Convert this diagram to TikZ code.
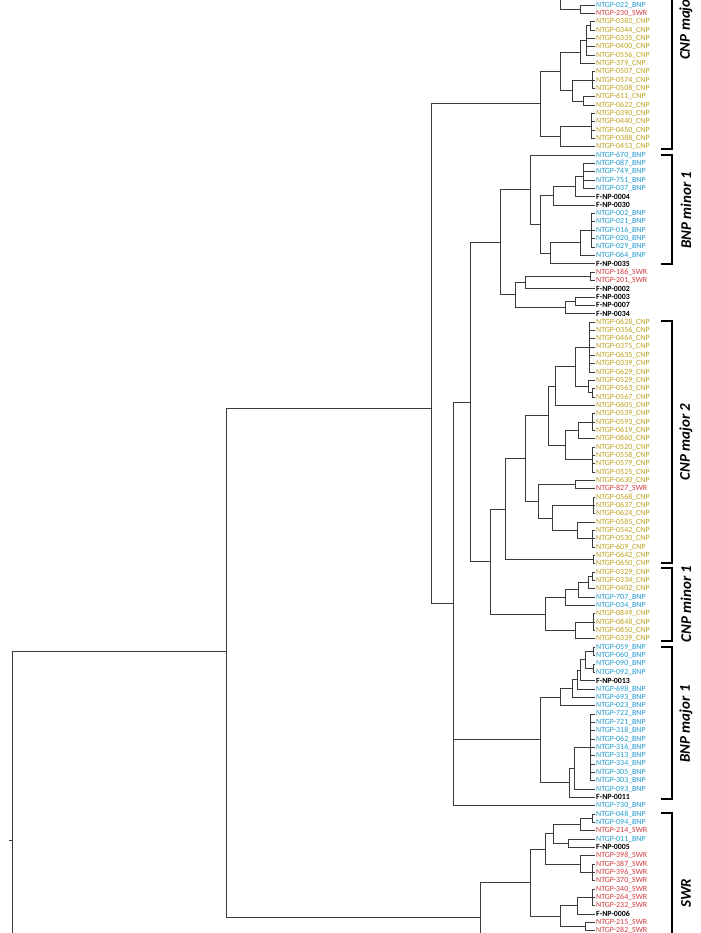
\documentclass[tikz,border=0pt]{standalone}
\usepackage{fontspec}
\setmainfont{Carlito}
\usetikzlibrary{calc}
\definecolor{bnp}{HTML}{1F9BD0}
\definecolor{cnp}{HTML}{BFA11A}
\definecolor{swr}{HTML}{D2393C}
\definecolor{twig}{HTML}{3A3A3A}

\newcommand\leafBNP[1]{NTGP-#1\_BNP}
\newcommand\leafCNP[1]{NTGP-#1\_CNP}
\newcommand\leafSWR[1]{NTGP-#1\_SWR}
\newcommand\leafFNP[1]{F-NP-#1}
% name, x, first child, last child: the joint sits halfway down its bar
\newcommand\clade[4]{%
  \coordinate (tmp) at ($(#3)!.5!(#4)$);
  \coordinate (#1) at (#2,0 |- tmp);
  \draw[branch] (#1) |- (#3);
  \draw[branch] (#1) |- (#4);}
% same, with the joint put at a given height
\newcommand\cladeat[5]{%
  \coordinate (#1) at (#2,#3);
  \draw[branch] (#1) |- (#4);
  \draw[branch] (#1) |- (#5);}
\newcommand\also[2]{\foreach \c in {#2}{\draw[branch] (#1) |- (\c);}}

\begin{document}
\begin{tikzpicture}[x=0.02cm,y=-0.02cm,
    branch/.style={draw=twig,line width=0.4pt},
    leaf/.style={anchor=west,inner sep=0.5pt,font=\fontsize{4.5}{5}\selectfont},
    BNP/.style={text=bnp},CNP/.style={text=cnp},SWR/.style={text=swr},
    FNP/.style={text=black,font=\fontsize{4.5}{5}\selectfont\bfseries},
    bracket/.style={line width=1.2pt},
    grouplab/.style={rotate=90,font=\fontsize{8.5}{10}\selectfont\bfseries\itshape}]
  \useasboundingbox (0,0) rectangle (700,933);
  \clip (0,0) rectangle (700,933);

  % leaves, top to bottom
  \foreach \id/\k [count=\i] in {022/BNP,230/SWR,0382/CNP,0344/CNP,0335/CNP,0400/CNP,
      0556/CNP,379/CNP,0507/CNP,0574/CNP,0508/CNP,611/CNP,0622/CNP,0390/CNP,0440/CNP,
      0450/CNP,0388/CNP,0453/CNP,670/BNP,087/BNP,749/BNP,751/BNP,037/BNP,0004/FNP,
      0030/FNP,002/BNP,021/BNP,016/BNP,020/BNP,029/BNP,064/BNP,0035/FNP,186/SWR,
      201/SWR,0002/FNP,0003/FNP,0007/FNP,0034/FNP,0628/CNP,0356/CNP,0464/CNP,0375/CNP,
      0635/CNP,0339/CNP,0629/CNP,0529/CNP,0563/CNP,0567/CNP,0605/CNP,0539/CNP,0593/CNP,
      0619/CNP,0860/CNP,0520/CNP,0558/CNP,0579/CNP,0525/CNP,0630/CNP,827/SWR,0568/CNP,
      0637/CNP,0624/CNP,0585/CNP,0542/CNP,0530/CNP,609/CNP,0642/CNP,0650/CNP,0329/CNP,
      0334/CNP,0402/CNP,707/BNP,034/BNP,0849/CNP,0848/CNP,0850/CNP,0339/CNP,059/BNP,
      060/BNP,090/BNP,092/BNP,0013/FNP,698/BNP,693/BNP,023/BNP,722/BNP,721/BNP,318/BNP,
      062/BNP,316/BNP,313/BNP,334/BNP,305/BNP,303/BNP,093/BNP,0011/FNP,730/BNP,048/BNP,
      094/BNP,214/SWR,011/BNP,0005/FNP,398/SWR,387/SWR,396/SWR,370/SWR,340/SWR,264/SWR,
      232/SWR,0006/FNP,215/SWR,282/SWR}{
    \coordinate (l\i) at (595,{5+(\i-1)*8.34});
    \node[leaf,\k] (n\i) at (l\i) {\csname leaf\k\endcsname{\id}};}

  % top edge, runs on above the page
  \coordinate (up) at (560,-8);
  \clade{t1}{580}{l1}{l2}
  \clade{t0}{560}{up}{t1}

  % CNP major
  \clade{c1}{590}{l3}{l4}
  \clade{c2}{586}{c1}{l7} \also{c2}{l5,l6}
  \clade{c3}{580}{c2}{l8}
  \clade{c5}{592}{l9}{l11} \also{c5}{l10}
  \clade{c6}{583}{l12}{l13}
  \clade{c7}{572}{c5}{c6}
  \clade{c8}{560}{c3}{c7}
  \clade{c9}{591}{l14}{l17} \also{c9}{l15,l16}
  \clade{c10}{560}{c9}{l18}
  \clade{c11}{540}{c8}{c10}

  % BNP minor 1
  \clade{b1}{583}{l20}{l23} \also{b1}{l21,l22}
  \clade{b2}{575}{b1}{l24}
  \clade{b3}{553}{b2}{l25}
  \clade{b4}{591}{l26}{l30} \also{b4}{l27,l28,l29}
  \clade{b5}{580}{b4}{l31}
  \clade{b6}{550}{b5}{l32}
  \clade{b7}{540}{b3}{b6}
  \clade{b8}{530}{l19}{b7}

  % loose SWR and F-NP
  \clade{s1}{590}{l33}{l34}
  \clade{s2}{575}{l36}{l37}
  \clade{s3}{565}{s2}{l38}
  \clade{s4}{525}{s1}{l35}
  \clade{s5}{515}{s4}{s3}
  \clade{p1}{500}{b8}{s5}

  % CNP major 2
  \clade{d1}{589}{l39}{l45} \also{d1}{l40,l41,l42,l43,l44}
  \clade{d2}{592}{l47}{l48}
  \clade{d3}{588}{l46}{d2}
  \clade{d4}{575}{d1}{d3}
  \clade{d5}{555}{d4}{l49}
  \clade{d6}{592}{l50}{l52} \also{d6}{l51}
  \clade{d7}{578}{d6}{l53}
  \clade{d8}{592}{l54}{l57} \also{d8}{l55,l56}
  \clade{d9}{565}{d7}{d8}
  \clade{d10}{548}{d5}{d9}
  \clade{d11}{575}{l58}{l59}
  \clade{d12}{593}{l60}{l62} \also{d12}{l61}
  \clade{d13}{592}{l64}{l66} \also{d13}{l65}
  \clade{d14}{577}{l63}{d13}
  \clade{d15}{552}{d12}{d14}
  \clade{d16}{538}{d11}{d15}
  \clade{d17}{593}{l67}{l68}
  \clade{d18}{525}{d10}{d16}
  \clade{d19}{505}{d18}{d17}

  % CNP minor 1
  \clade{e1}{592}{l69}{l70}
  \clade{e2}{588}{e1}{l71}
  \clade{e3}{578}{e2}{l72}
  \clade{e4}{565}{e3}{l73}
  \clade{e5}{593}{l74}{l76} \also{e5}{l75}
  \clade{e6}{575}{e5}{l77}
  \clade{e7}{545}{e4}{e6}

  % BNP major 1
  \clade{f1}{593}{l78}{l79}
  \clade{f2}{593}{l80}{l81}
  \clade{f3}{585}{f1}{f2}
  \clade{f4}{580}{f3}{l82}
  \clade{f5}{577}{f4}{l83}
  \clade{f6}{572}{f5}{l84}
  \clade{f7}{560}{f6}{l85}
  \clade{f8}{590}{l86}{l94} \also{f8}{l87,l88,l89,l90,l91,l92,l93}
  \clade{f9}{574}{f8}{l95}
  \clade{f10}{569}{f9}{l96}
  \clade{f11}{540}{f7}{f10}

  \clade{q1}{490}{d19}{e7}
  \clade{q2}{470}{p1}{q1}
  \clade{q3}{453}{q2}{l97} \also{q3}{f11}
  \cladeat{x1}{431}{408}{c11}{q3}

  % SWR
  \clade{g1}{592}{l98}{l99}
  \clade{g2}{580}{g1}{l100}
  \clade{g3}{568}{l101}{l102}
  \clade{g4}{553}{g2}{g3}
  \clade{g5}{592}{l104}{l106} \also{g5}{l105}
  \clade{g6}{580}{l103}{g5}
  \clade{g7}{592}{l107}{l109} \also{g7}{l108}
  \clade{g8}{577}{g7}{l110}
  \clade{g9}{585}{l111}{l112}
  \clade{g10}{560}{g8}{g9}
  \clade{g11}{545}{g4}{g6}
  \clade{g12}{530}{g11}{g10}
  \coordinate (down) at (560,953);
  \clade{g13}{480}{g12}{down}

  % root, and what hangs below the page
  \cladeat{r2}{226}{651}{x1}{g13}
  \coordinate (deep) at (226,1000);
  \cladeat{r1}{12}{840}{r2}{deep}
  \draw[branch] (r1) -- ++(-3,0);

  % group brackets
  \draw[bracket] (672,-10) -- (672,149) -- (661,149);
  \draw[bracket] (661,155) -- (672,155) -- (672,264) -- (661,264);
  \draw[bracket] (661,321) -- (672,321) -- (672,563) -- (661,563);
  \draw[bracket] (661,568) -- (672,568) -- (672,641) -- (661,641);
  \draw[bracket] (661,647) -- (672,647) -- (672,799) -- (661,799);
  \draw[bracket] (661,813) -- (672,813) -- (672,945);
  \node[grouplab,anchor=west] (cnpmaj1) at (686,66) {CNP major 1};
  \node[grouplab] (bnpmin1) at (686,210) {BNP minor 1};
  \node[grouplab] (cnpmaj2) at (686,442) {CNP major 2};
  \node[grouplab] (cnpmin1) at (686,604) {CNP minor 1};
  \node[grouplab] (bnpmaj1) at (686,724) {BNP major 1};
  \node[grouplab] (swrgrp) at (686,893) {SWR};
\end{tikzpicture}
\end{document}
